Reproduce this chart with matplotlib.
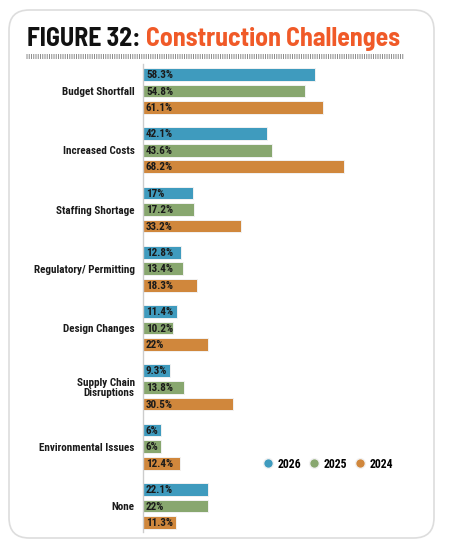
import matplotlib
matplotlib.use('Agg')
import matplotlib.pyplot as plt
from matplotlib.patches import FancyBboxPatch
from matplotlib.lines import Line2D
import numpy as np

plt.rcParams['lines.scale_dashes'] = False

categories = ["Budget Shortfall", "Increased Costs", "Staffing Shortage",
              "Regulatory/ Permitting", "Design Changes",
              "Supply Chain\nDisruptions", "Environmental Issues", "None"]
years = ["2026", "2025", "2024"]
v2026 = [58.3, 42.1, 17, 12.8, 11.4, 9.3, 6, 22.1]
v2025 = [54.8, 43.6, 17.2, 13.4, 10.2, 13.8, 6, 22]
v2024 = [61.1, 68.2, 33.2, 18.3, 22, 30.5, 12.4, 11.3]
colors = ["#3f9bbe", "#88a76f", "#d0873c"]

W, H = 450, 545
fig = plt.figure(figsize=(W / 100, H / 100), dpi=100)
fig.patch.set_facecolor("white")

# rounded card behind everything
card = FancyBboxPatch((9 / W, 1 - 538 / H), 425 / W, 528 / H,
                      boxstyle="round,pad=0,rounding_size=0.045",
                      transform=fig.transFigure, facecolor="white",
                      edgecolor="#dddddd", linewidth=1.2, mutation_aspect=W / H,
                      zorder=-5)
fig.patches.append(card)

title_font = "Barlow Semi Condensed"
lab_font = "Roboto Condensed"

# title in two colours, sized to span the same width as the reference
tsize = 17
t1 = fig.text(27 / W, 1 - 46 / H, "FIGURE 32: ", fontsize=tsize, fontweight="bold",
              family=title_font, color="#111111", va="baseline")
t2 = fig.text(0, 1 - 46 / H, "Construction Challenges", fontsize=tsize,
              fontweight="bold", family=title_font, color="#f05a28", va="baseline")
r = fig.canvas.get_renderer()
w = t1.get_window_extent(r).width + t2.get_window_extent(r).width
tsize = tsize * 374 / w
t1.set_fontsize(tsize)
t2.set_fontsize(tsize)
t2.set_x((27 + t1.get_window_extent(r).width) / W)

# fine hatched rule under the title
fig.add_artist(Line2D([26 / W, 403 / W], [1 - 56 / H, 1 - 56 / H],
                      transform=fig.transFigure, color="#8c8c8c",
                      linewidth=3.6, dashes=(0.72, 0.9), dash_capstyle="butt"))

ax = fig.add_axes([143 / W, 1 - 532 / H, 295 / W, 468 / H])
ax.set_xlim(0, 100)
ax.set_ylim(7.44, -0.455)

y = np.arange(len(categories))
off = 0.28
h = 0.215
for k, vals in enumerate([v2026, v2025, v2024]):
    pos = y + (k - 1) * off
    ax.barh(pos, vals, height=h, color=colors[k], edgecolor="#f2f2f2",
            linewidth=0.7, label=years[k])
    for p, v in zip(pos, vals):
        ax.text(1.0, p + 0.01, f"{v:g}%", va="center", ha="left", fontsize=8,
                fontweight="bold", family=lab_font, color="#1a1a1a")

ax.set_yticks(y)
ax.set_yticklabels(categories, fontsize=8, fontweight="bold", family=lab_font,
                   color="#1a1a1a", linespacing=1.0)
ax.tick_params(axis="y", length=0, pad=6)
ax.set_xticks([])
for s in ["top", "right", "bottom"]:
    ax.spines[s].set_visible(False)
ax.spines["left"].set_color("#cccccc")
ax.spines["left"].set_linewidth(1)
ax.set_facecolor("none")

handles = [Line2D([], [], marker="o", linestyle="none", markersize=7,
                  markerfacecolor=c, markeredgecolor="#f2f2f2") for c in colors]
fig.legend(handles, years, loc="center", bbox_to_anchor=(328 / W, 1 - 464 / H),
           ncol=3, frameon=False, handletextpad=0.4, columnspacing=0.7,
           handlelength=0.8, prop={"family": lab_font, "weight": "bold", "size": 8.5})

fig.savefig("out.png", dpi=100)
